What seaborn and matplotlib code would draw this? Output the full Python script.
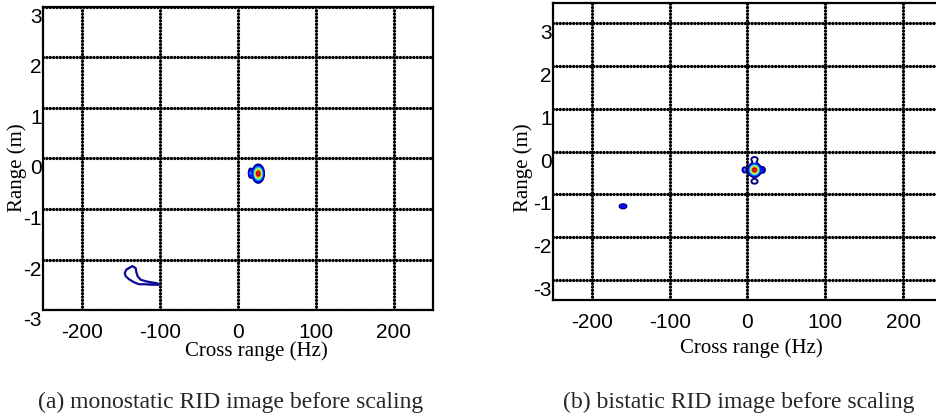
"""
Images RID (range / cross range) avant mise à l'échelle :
(a) monostatique, (b) bistatique.
"""

import numpy as np
import matplotlib
matplotlib.use('Agg')
import matplotlib.pyplot as plt
from matplotlib.transforms import ScaledTranslation
import seaborn as sns

# --- Données ---
X_TICKS = [-200, -100, 0, 100, 200]
Y_TICKS = [-3, -2, -1, 0, 1, 2, 3]
LEVELS = [0.1, 0.2, 0.3, 0.45, 0.6, 0.75, 0.9]

# (a) monostatique : pics (centre Hz / m, largeur, amplitude)
mono_x = [26, 16]
mono_y = [-0.30, -0.29]
mono_sx = [3.5, 1.5]
mono_sy = [0.085, 0.06]
mono_amp = [1.0, 0.3]

# contour bleu isolé en bas à gauche (a)
trail_x = [-139.7, -135.4, -131.2, -130.3, -128.7, -124.8, -118.5, -112.1, -103.6,
           -101.5, -110.0, -118.5, -127.0, -133.4, -139.7, -144.0, -145.2, -143.1, -139.7]
trail_y = [-2.17, -2.13, -2.17, -2.25, -2.33, -2.40, -2.43, -2.45, -2.47,
           -2.50, -2.50, -2.49, -2.49, -2.45, -2.39, -2.33, -2.27, -2.20, -2.17]

# (b) bistatique : pic principal, 4 lobes, tache isolée
bi_x = [9, 9, 9, -4, 20, -160]
bi_y = [-0.43, -0.18, -0.70, -0.43, -0.43, -1.28]
bi_sx = [4.0, 3.8, 3.8, 2.0, 2.0, 3.3]
bi_sy = [0.076, 0.05, 0.05, 0.05, 0.05, 0.037]
bi_amp = [1.0, 0.17, 0.17, 0.2, 0.2, 0.25]

# --- Style ---
sns.set_theme(style='white', rc={
    'axes.unicode_minus': False,
    'axes.edgecolor': 'black',
    'axes.linewidth': 1.6,
})
plt.rcParams['font.family'] = ['Liberation Sans', 'DejaVu Sans']

XX = np.arange(-250, 250.25, 0.25)
YY = np.arange(-3.6, 3.6, 0.004)
GX, GY = np.meshgrid(XX, YY)


def build_field(px, py, sx, sy, amp):
    """Somme de taches gaussiennes placées aux pics relevés."""
    z = np.zeros_like(GX)
    for x0, y0, a, b, h in zip(px, py, sx, sy, amp):
        z += h * np.exp(-((GX - x0) ** 2 / (2 * a ** 2) + (GY - y0) ** 2 / (2 * b ** 2)))
    return z


def setup_axes(fig, ax, ylim, xlab_pos, ylab_pos):
    ax.set_xlim(-250, 250)
    ax.set_ylim(*ylim)
    ax.set_xticks(X_TICKS)
    ax.set_yticks(Y_TICKS)
    ax.grid(True, color='black', linestyle=(0, (0.01, 1.0)), linewidth=2.4,
            dash_capstyle='round')
    ax.tick_params(axis='both', length=0, labelsize=15, colors='black')
    ax.tick_params(axis='x', pad=9.5)
    ax.tick_params(axis='y', pad=1)
    for lab in ax.get_yticklabels():
        lab.set_transform(lab.get_transform() +
                          ScaledTranslation(0, -0.085, fig.dpi_scale_trans))
    for s in ax.spines.values():
        s.set_visible(True)
        s.set_color('black')
    ax.set_xlabel('Cross range (Hz)', family='Liberation Serif', fontsize=15,
                  color='black', va='center')
    ax.set_ylabel('Range (m)', family='Liberation Serif', fontsize=15,
                  color='black', va='center')
    ax.xaxis.set_label_coords(*xlab_pos)
    ax.yaxis.set_label_coords(*ylab_pos)


fig = plt.figure(figsize=(9.36, 4.16), dpi=100)
ax_a = fig.add_axes([0.0459, 0.2548, 0.4167, 0.7284])
ax_b = fig.add_axes([0.5908, 0.2788, 0.4156, 0.7140])

# (a)
z_a = build_field(mono_x, mono_y, mono_sx, mono_sy, mono_amp)
ax_a.contour(XX, YY, z_a, levels=LEVELS, cmap='jet', vmin=0.1, vmax=0.95,
             linewidths=1.4)
sns.lineplot(x=trail_x, y=trail_y, sort=False, estimator=None, color='#0a0a96',
             linewidth=1.6, ax=ax_a)
setup_axes(fig, ax_a, (-3, 3), (0.546, -0.135), (-0.0667, 0.469))

# (b)
z_b = build_field(bi_x, bi_y, bi_sx, bi_sy, bi_amp)
ax_b.contour(XX, YY, z_b, levels=LEVELS, cmap='jet', vmin=0.1, vmax=0.95,
             linewidths=1.4)
setup_axes(fig, ax_b, (-3.47, 3.47), (0.509, -0.162), (-0.077, 0.444))

fig.text(0.2468, 0.0337, '(a) monostatic RID image before scaling',
         family='Liberation Serif', fontsize=17, ha='center', va='center')
fig.text(0.7895, 0.0337, '(b) bistatic RID image before scaling',
         family='Liberation Serif', fontsize=17, ha='center', va='center')

fig.savefig('out.png', dpi=100)
plt.close(fig)
